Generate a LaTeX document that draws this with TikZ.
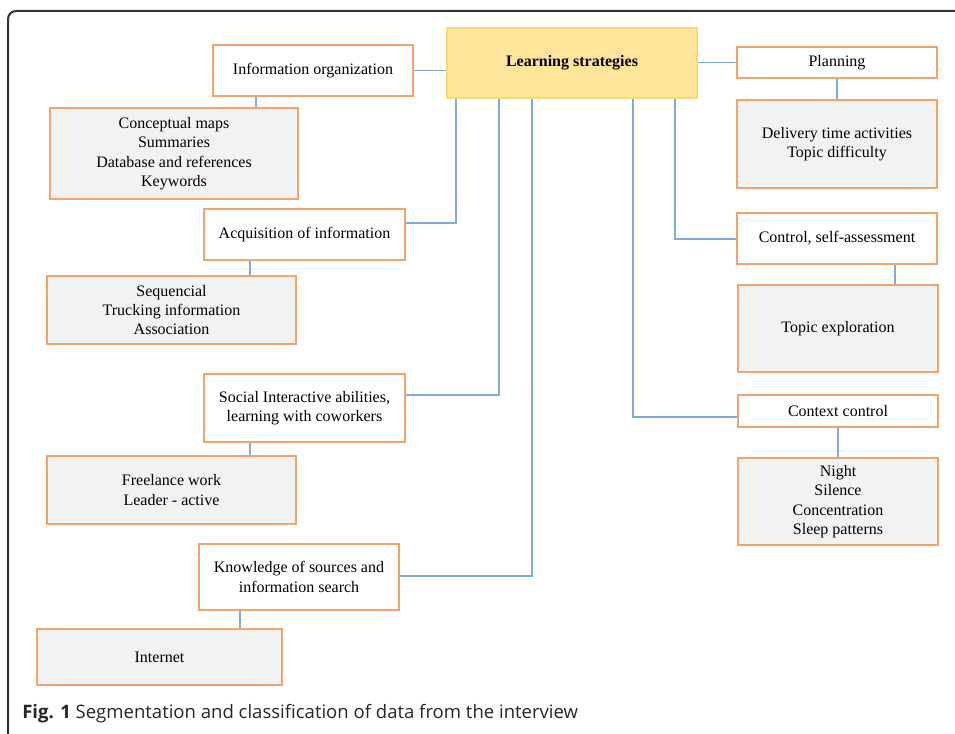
\documentclass[tikz,border=0pt]{standalone}
\usepackage{fontspec}
\setmainfont{Liberation Serif}
\newfontfamily\capfont{Open Sans}
\usepackage{xcolor}
\usetikzlibrary{calc, positioning}

\definecolor{boxorange}{RGB}{244,164,106}
\definecolor{boxgray}{RGB}{242,242,242}
\definecolor{linkblue}{RGB}{125,172,225}
\definecolor{mainfill}{RGB}{255,229,153}
\definecolor{mainline}{RGB}{255,217,110}

\begin{document}
\begin{tikzpicture}[x=0.75pt, y=-0.75pt,
    strat/.style 2 args={draw=boxorange, line width=1.3pt, fill=white,
        minimum width=#1*0.75pt, minimum height=#2*0.75pt, inner sep=0pt,
        align=center, font=\fontsize{12}{14.6}\selectfont},
    detail/.style 2 args={strat={#1}{#2}, fill=boxgray},
    mainbox/.style={draw=mainline, line width=1pt, fill=mainfill,
        minimum width=250*0.75pt, minimum height=70*0.75pt,
        font=\fontsize{12}{14}\selectfont\bfseries},
    link/.style={draw=linkblue, line width=1.3pt}]
    \useasboundingbox (0,0) rectangle (955,734);

    % Marco
    \draw[line width=1.5pt, black!80, rounded corners=6pt] (8,734) -- (8,11) -- (955,11);

    % Nodo central
    \node[mainbox] (ls) at (572,63) {Learning strategies};

    % Rama izquierda
    \node[strat={200}{51}] (io) at (313,70.5) {Information organization};
    \node[detail={248}{91}] (cm) at (174,153.5) {Conceptual maps\\Summaries\\Database and references\\Keywords};
    \node[strat={201}{51}] (ai) at (304.5,234.5) {Acquisition of information};
    \node[detail={249}{68}] (sq) at (171.5,310) {Sequencial\\Trucking information\\Association};
    \node[strat={201}{68}] (si) at (304.5,408) {Social Interactive abilities,\\learning with coworkers};
    \node[detail={249}{68}] (fw) at (171.5,490) {Freelance work\\Leader - active};
    \node[strat={200}{66}] (ks) at (299,577) {Knowledge of sources and\\information search};
    \node[detail={245}{56}] (in) at (159.5,657) {Internet};

    % Rama derecha
    \node[strat={200}{31}] (pl) at (837,62.5) {Planning};
    \node[detail={200}{88}] (dt) at (837,144) {Delivery time activities\\Topic difficulty};
    \node[strat={200}{51}] (cs) at (837,238.5) {Control, self-assessment};
    \node[detail={200}{87}] (te) at (838,328.5) {Topic exploration};
    \node[strat={200}{32}] (cc) at (838,411) {Context control};
    \node[detail={200}{87}] (ng) at (838,501.5) {Night\\Silence\\Concentration\\Sleep patterns};

    % Puntos de quiebre
    \coordinate (jai) at (456,223);
    \coordinate (jsi) at (499,395);
    \coordinate (jks) at (532,576);
    \coordinate (jcs) at (675,239);
    \coordinate (jcc) at (633,417);
    \coordinate (xio) at (256,0);
    \coordinate (xai) at (250,0);
    \coordinate (xks) at (240,0);
    \coordinate (xcs) at (895,0);

    % Conectores
    \draw[link] (io.east) -- (ls.west |- io.east);
    \draw[link] (ls.south -| jai) |- (ai.east |- jai);
    \draw[link] (ls.south -| jsi) |- (si.east |- jsi);
    \draw[link] (ls.south -| jks) |- (ks.east |- jks);
    \draw[link] (ls.east |- pl.west) -- (pl.west);
    \draw[link] (ls.south -| jcs) |- (cs.west |- jcs);
    \draw[link] (ls.south -| jcc) |- (cc.west |- jcc);

    \draw[link] (io.south -| xio) -- (cm.north -| xio);
    \draw[link] (ai.south -| xai) -- (sq.north -| xai);
    \draw[link] (si.south -| xai) -- (fw.north -| xai);
    \draw[link] (ks.south -| xks) -- (in.north -| xks);
    \draw[link] (pl.south) -- (dt.north);
    \draw[link] (cs.south -| xcs) -- (te.north -| xcs);
    \draw[link] (cc.south) -- (ng.north);

    % Leyenda
    \node[anchor=base west, inner sep=0pt, text=black!85, font=\capfont\fontsize{13.9}{16}\selectfont]
        (cap) at (22,718) {\textbf{Fig. 1} Segmentation and classification of data from the interview};
\end{tikzpicture}
\end{document}
